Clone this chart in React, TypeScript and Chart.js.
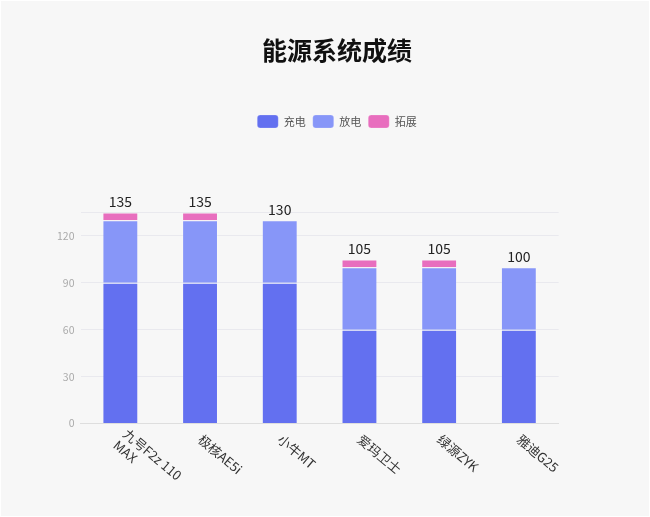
import { useRef, useEffect } from 'react';
import Chart from 'chart.js/auto';

const categories: (string | string[])[] = [['九号F2z 110', 'MAX'], '极核AE5i', '小牛MT', '爱玛卫士', '绿源ZYK', '雅迪G25'];
const chargeValues = [90, 90, 90, 60, 60, 60];
const dischargeValues = [40, 40, 40, 40, 40, 40];
const extendValues = [5, 5, 0, 5, 5, 0];
const yTickValues = [0, 30, 60, 90, 120];
const yMax = 135;

const FONT = '"Noto Sans CJK SC", "Noto Sans", sans-serif';

// totals printed above each stack
const totalsPlugin = {
    id: 'totals',
    afterDatasetsDraw(chart: any) {
        const { ctx, scales } = chart;
        const meta = chart.getDatasetMeta(0);
        ctx.save();
        ctx.font = `14px ${FONT}`;
        ctx.fillStyle = '#222';
        ctx.textAlign = 'center';
        ctx.textBaseline = 'middle';
        chargeValues.forEach((v, i) => {
            const total = v + dischargeValues[i] + extendValues[i];
            const bar = meta.data[i];
            ctx.fillText(String(total), bar.x, scales.y.getPixelForValue(total) - 11);
        });
        ctx.restore();
    }
};

// x labels rotated clockwise, starting at the tick
const xLabelsPlugin = {
    id: 'xLabels',
    afterDraw(chart: any) {
        const { ctx, scales, chartArea } = chart;
        ctx.save();
        ctx.font = `13px ${FONT}`;
        ctx.fillStyle = '#333';
        ctx.textAlign = 'left';
        ctx.textBaseline = 'middle';
        categories.forEach((label, i) => {
            const lines = Array.isArray(label) ? label : [label];
            ctx.save();
            ctx.translate(scales.x.getPixelForTick(i), chartArea.bottom + 14);
            ctx.rotate((40 * Math.PI) / 180);
            lines.forEach((line, j) => {
                ctx.fillText(line, 0, (j - (lines.length - 1) / 2) * 15);
            });
            ctx.restore();
        });
        ctx.restore();
    }
};

// extra room between legend and plot
const legendSpacer = {
    id: 'legendSpacer',
    beforeLayout(chart: any) {
        const legend = chart.legend;
        if (legend && !legend._spaced) {
            const fit = legend.fit;
            legend.fit = function () {
                fit.call(this);
                this.height += 74.5;
            };
            legend._spaced = true;
        }
    }
};

export default function App() {
    const chartRef = useRef<HTMLCanvasElement>(null);

    useEffect(() => {
        if (!chartRef.current) return;
        const chart = new Chart(chartRef.current, {
            type: 'bar',
            data: {
                labels: categories,
                datasets: [
                    { label: '充电', data: chargeValues, backgroundColor: '#6370F0' },
                    { label: '放电', data: dischargeValues, backgroundColor: '#8796F8' },
                    { label: '拓展', data: extendValues, backgroundColor: '#E86EBE' }
                ].map(d => ({
                    ...d,
                    borderColor: 'rgba(255,255,255,0.2)',
                    borderWidth: 1,
                    categoryPercentage: 0.9,
                    barPercentage: 0.5
                }))
            },
            options: {
                responsive: false,
                animation: false,
                layout: { padding: { left: 24, right: 0, top: 0, bottom: 92.5 } },
                plugins: {
                    title: {
                        display: true,
                        text: '能源系统成绩',
                        color: '#111',
                        font: { family: FONT, size: 25, weight: 'bold' },
                        padding: { top: 34, bottom: 43 }
                    },
                    legend: {
                        position: 'top',
                        labels: {
                            boxWidth: 21,
                            boxHeight: 13,
                            useBorderRadius: true,
                            borderRadius: 3,
                            padding: 7,
                            color: '#555',
                            font: { family: FONT, size: 11 }
                        }
                    },
                    tooltip: { enabled: false }
                },
                scales: {
                    x: {
                        stacked: true,
                        grid: { display: false, drawTicks: false },
                        border: { display: true, color: '#dedede' },
                        ticks: { display: false }
                    },
                    y: {
                        stacked: true,
                        min: 0,
                        max: yMax,
                        afterBuildTicks: (scale: any) => {
                            scale.ticks = [...yTickValues, yMax].map(v => ({ value: v }));
                        },
                        afterFit: (scale: any) => {
                            scale.width = 55.5;
                        },
                        grid: { color: '#e9e9ee', drawTicks: false },
                        border: { display: false },
                        ticks: {
                            padding: 6,
                            color: '#aaa',
                            font: { family: FONT, size: 10.5 },
                            callback: (v: any) => (yTickValues.includes(Number(v)) ? v : '')
                        }
                    },
                    y2: {
                        position: 'right',
                        display: true,
                        afterFit: (scale: any) => {
                            scale.width = 90.3;
                        },
                        grid: { display: false, drawTicks: false },
                        border: { display: false },
                        ticks: { display: false }
                    }
                }
            } as any,
            plugins: [totalsPlugin, xLabelsPlugin, legendSpacer]
        });
        return () => chart.destroy();
    }, []);

    return (
        <div style={{ position: 'fixed', left: 1, top: 1, width: 648, height: 515, background: '#f7f7f7' }}>
            <canvas ref={chartRef} width={648} height={515}></canvas>
        </div>
    );
}
